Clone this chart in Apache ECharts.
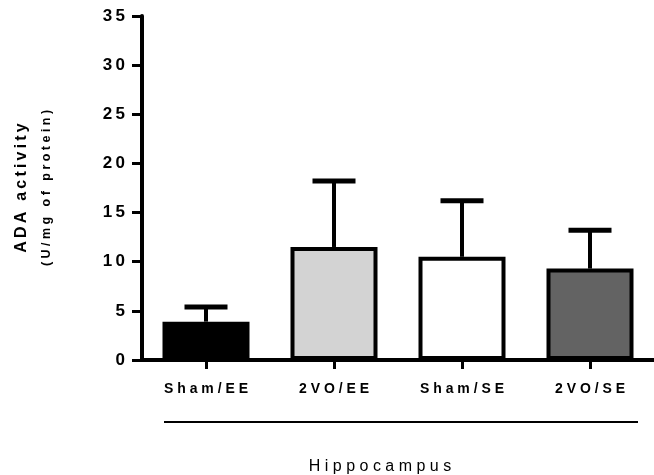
<!DOCTYPE html>
<html>
<head>
<meta charset="utf-8">
<script src="https://cdn.jsdelivr.net/npm/echarts@6/dist/echarts.min.js"></script>
<style>
html,body{margin:0;padding:0;background:#fff;}
#chart{width:654px;height:475px;}
</style>
</head>
<body>
<div id="chart"></div>
<script>
const categories = ['Sham/EE', '2VO/EE', 'Sham/SE', '2VO/SE'];
const means = [3.9, 11.5, 10.5, 9.3];
const errors = [1.5, 6.7, 5.7, 3.9];
const barColors = ['#000000', '#d3d3d3', '#ffffff', '#636363'];
const yTicks = [0, 5, 10, 15, 20, 25, 30, 35];
const yTitle = 'ADA activity';
const yUnit = '(U/mg of protein)';
const groupLabel = 'Hippocampus';

const FONT = 'Liberation Sans, Arial, sans-serif';
const THIN = '\u2009';
function spaced(s, sep) { return s.split('').join(sep); }

const chart = echarts.init(document.getElementById('chart'), null, {renderer: 'canvas'});

const option = {
  backgroundColor: '#ffffff',
  animation: false,
  grid: {left: 142, right: 0, top: 16, bottom: 115, containLabel: false},
  xAxis: {
    type: 'category',
    data: categories,
    axisLine: {lineStyle: {color: '#000', width: 4}},
    axisTick: {show: true, alignWithLabel: true, length: 9, lineStyle: {color: '#000', width: 3}},
    axisLabel: {
      color: '#000', fontFamily: FONT, fontWeight: 'bold', fontSize: 14, margin: 22,
      formatter: v => spaced(v, ' ')
    }
  },
  yAxis: {
    type: 'value',
    min: yTicks[0],
    max: yTicks[yTicks.length - 1],
    interval: yTicks[1] - yTicks[0],
    splitLine: {show: false},
    axisLine: {show: true, lineStyle: {color: '#000', width: 4}},
    axisTick: {show: true, length: 10, lineStyle: {color: '#000', width: 3}},
    axisLabel: {
      color: '#000', fontFamily: FONT, fontWeight: 'bold', fontSize: 17, margin: 17,
      formatter: v => spaced(String(v), THIN)
    }
  },
  series: [
    {
      type: 'bar',
      data: means.map((v, i) => ({value: v, itemStyle: {color: barColors[i]}})),
      barWidth: 87,
      itemStyle: {borderColor: '#000', borderWidth: 4},
      z: 2
    },
    {
      type: 'custom',
      z: 3,
      data: means.map((v, i) => [i, v, v + errors[i]]),
      renderItem: function (params, api) {
        const i = api.value(0);
        const p0 = api.coord([i, api.value(1)]);
        const p1 = api.coord([i, api.value(2)]);
        const half = 21.5;
        return {
          type: 'group',
          children: [
            {type: 'line', shape: {x1: p0[0], y1: p0[1], x2: p1[0], y2: p1[1]},
             style: {stroke: '#000', lineWidth: 4}},
            {type: 'line', shape: {x1: p1[0] - half, y1: p1[1], x2: p1[0] + half, y2: p1[1]},
             style: {stroke: '#000', lineWidth: 5}}
          ]
        };
      }
    }
  ],
  graphic: [
    {
      type: 'text', x: 22, y: 188, rotation: Math.PI / 2,
      style: {text: yTitle.split(' ').map(w => spaced(w, THIN)).join(THIN + ' ' + THIN), fill: '#000', font: 'bold 16px ' + FONT, align: 'center', verticalAlign: 'middle'}
    },
    {
      type: 'text', x: 47, y: 188, rotation: Math.PI / 2,
      style: {text: spaced(yUnit, ' '), fill: '#000', font: 'bold 12.5px ' + FONT, align: 'center', verticalAlign: 'middle'}
    },
    {
      type: 'line', shape: {x1: 164, y1: 422, x2: 638, y2: 422},
      style: {stroke: '#000', lineWidth: 1.8}
    },
    {
      type: 'text', x: 380, y: 467,
      style: {text: spaced(groupLabel, ' '), fill: '#000', font: '16px ' + FONT, align: 'center', verticalAlign: 'middle'}
    }
  ]
};
chart.setOption(option);
</script>
</body>
</html>
